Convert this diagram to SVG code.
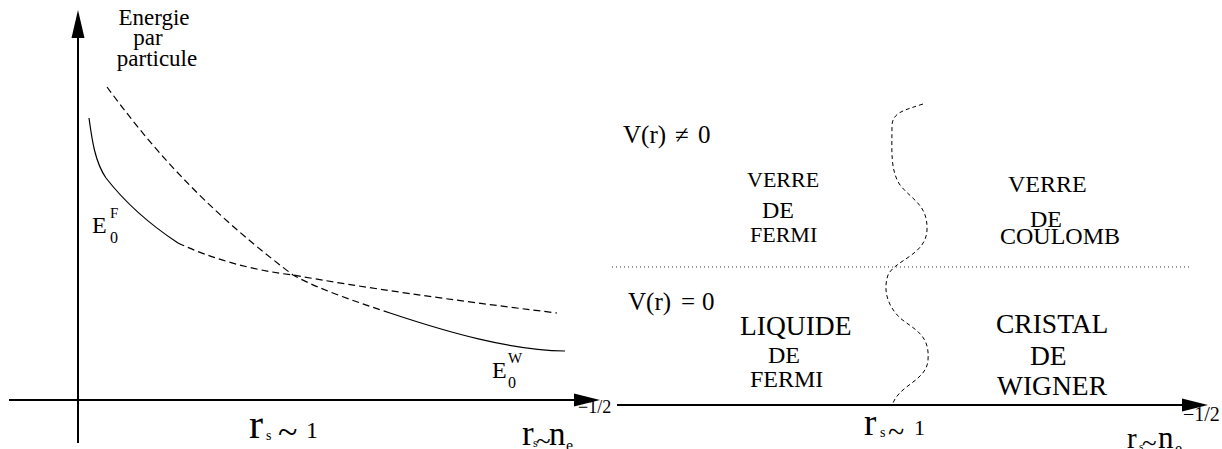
<svg xmlns="http://www.w3.org/2000/svg" width="1222" height="449" viewBox="0 0 1222 449" font-family="'Liberation Serif', 'Times New Roman', Times, 'DejaVu Serif', serif">
<style>
text{font-family:'Liberation Serif','Times New Roman',Times,'DejaVu Serif',serif;fill:#000}
.ax{stroke:#000;stroke-width:2;fill:none}
.ah{fill:#000;stroke:none}
.sol{stroke:#000;stroke-width:1.2;fill:none}
.dsh{stroke:#000;stroke-width:1.2;fill:none;stroke-dasharray:7 4}
.wav{stroke:#000;stroke-width:1;fill:none;stroke-dasharray:4 3}
.dot{stroke:#333;stroke-width:1;fill:none;stroke-dasharray:1 3}
</style>
<rect width="1222" height="449" fill="#fff"/>
<g id="connectors">
<line class="ax" x1="78" y1="443" x2="78" y2="34"/>
<polygon class="ah" points="78,10 71.5,38 84.5,38"/>
<line class="ax" x1="9" y1="400" x2="578" y2="400"/>
<polygon class="ah" points="600,400 574,393.5 574,406.5"/>
<line class="ax" x1="617" y1="405" x2="1186" y2="405"/>
<polygon class="ah" points="1208,405 1182,398.5 1182,411.5"/>
<path class="sol" d="M89,118 C92,140 95,162 106,178 C120,196 140,218 178,243"/>
<path class="dsh" d="M178,243 C210,258 250,270 293,275 C360,287 450,300 557,313"/>
<path class="dsh" d="M107,87 C150,145 200,205 293,275 C320,290 360,303 390,313"/>
<path class="sol" d="M390,313 C450,333 510,350 565,351"/>
<path class="dot" d="M612,267 L1190,267"/>
<path class="wav" d="M923,104 C905,110 893,112 892,125 C892,150 890,170 900,185 C912,200 928,205 927,230 C926,255 895,260 888,275 C883,290 887,305 900,318 C915,330 930,335 928,360 C927,380 900,385 893,403"/>
</g>
<g id="ylabel">
<text x="154" y="25" font-size="23" text-anchor="middle">Energie</text>
<text x="148" y="45" font-size="23" text-anchor="middle">par</text>
<text x="157" y="66" font-size="23" text-anchor="middle">particule</text>
</g>
<g id="E0F">
<text x="92" y="233" font-size="24">E</text>
<text x="110" y="243" font-size="16">0</text>
<text x="110" y="218" font-size="15">F</text>
</g>
<g id="E0W">
<text x="492" y="378" font-size="24">E</text>
<text x="508" y="388" font-size="16">0</text>
<text x="508" y="363" font-size="15">W</text>
</g>
<g id="xlabel-left-rs1">
<text x="249" y="438" font-size="42">r</text>
<text x="266" y="440" font-size="14">s</text>
<text x="278" y="444" font-size="36">~</text>
<text x="306" y="438" font-size="24">1</text>
</g>
<g id="xlabel-left-axis">
<text x="522" y="445" font-size="35">r</text>
<text x="533" y="447" font-size="12">s</text>
<text x="536" y="450" font-size="27">~</text>
<text x="549" y="445" font-size="33">n</text>
<text x="566" y="451" font-size="16">e</text>
<text x="578" y="413" font-size="18">−1/2</text>
</g>
<g id="V-nonzero">
<text y="143" font-size="25"><tspan x="623">V(r)</tspan><tspan x="675">≠</tspan><tspan x="698">0</tspan></text>
</g>
<g id="V-zero">
<text y="310" font-size="25"><tspan x="628">V(r)</tspan><tspan x="681">=</tspan><tspan x="702">0</tspan></text>
</g>
<g id="verre-fermi">
<text x="747" y="187" font-size="22">VERRE</text>
<text x="762" y="218" font-size="24">DE</text>
<text x="750" y="242" font-size="22">FERMI</text>
</g>
<g id="verre-coulomb">
<text x="1008" y="192" font-size="24">VERRE</text>
<text x="1030" y="227" font-size="24">DE</text>
<text x="1000" y="244" font-size="24">COULOMB</text>
</g>
<g id="liquide-fermi">
<text x="740" y="335" font-size="27.5">LIQUIDE</text>
<text x="768" y="363" font-size="24">DE</text>
<text x="750" y="387" font-size="24">FERMI</text>
</g>
<g id="cristal-wigner">
<text x="996" y="333" font-size="27.5">CRISTAL</text>
<text x="1030" y="365" font-size="27.5">DE</text>
<text x="997" y="395" font-size="27.5">WIGNER</text>
</g>
<g id="xlabel-right-rs1">
<text x="864" y="435" font-size="37">r</text>
<text x="880" y="437" font-size="14">s</text>
<text x="888" y="442" font-size="30">~</text>
<text x="914" y="435" font-size="22">1</text>
</g>
<g id="xlabel-right-axis">
<text x="1127" y="448" font-size="29">r</text>
<text x="1139" y="450" font-size="11">s</text>
<text x="1142" y="452" font-size="27">~</text>
<text x="1158" y="448" font-size="31">n</text>
<text x="1175" y="454" font-size="16">e</text>
<text x="1183" y="421" font-size="20">−1/2</text>
</g>
</svg>
